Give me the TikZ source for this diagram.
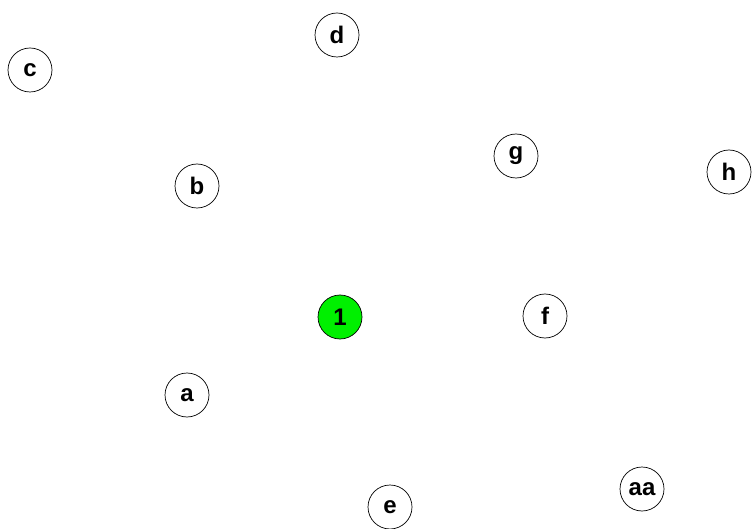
\documentclass[tikz,border=0pt]{standalone}
\usepackage{fontspec}
\setmainfont{Liberation Sans}
\usetikzlibrary{positioning}
\definecolor{cRoot}{RGB}{0,240,0}
\tikzset{
	vertex/.style={circle, draw=black, line width=0.7pt, minimum size=44pt, inner sep=0pt, fill=white, font=\bfseries\fontsize{24}{24}\selectfont},
	root/.style={vertex, fill=cRoot},
}
\begin{document}
\begin{tikzpicture}[x=1pt, y=-1pt]
	\useasboundingbox (0,0) rectangle (752,529);
	\node[vertex] (c) at (30,70) {c};
	\node[vertex] (d) at (337,35) {d};
	\node[vertex] (b) at (197,186) {b};
	\node[vertex] (g) at (516,156) {g};
	\node[vertex] (h) at (729,172) {h};
	\node[root] (one) at (340,317) {1};
	\node[vertex] (f) at (545,316) {f};
	\node[vertex] (a) at (187,395) {a};
	\node[vertex] (e) at (390,507) {e};
	\node[vertex] (aa) at (642,489) {aa};
\end{tikzpicture}
\end{document}
